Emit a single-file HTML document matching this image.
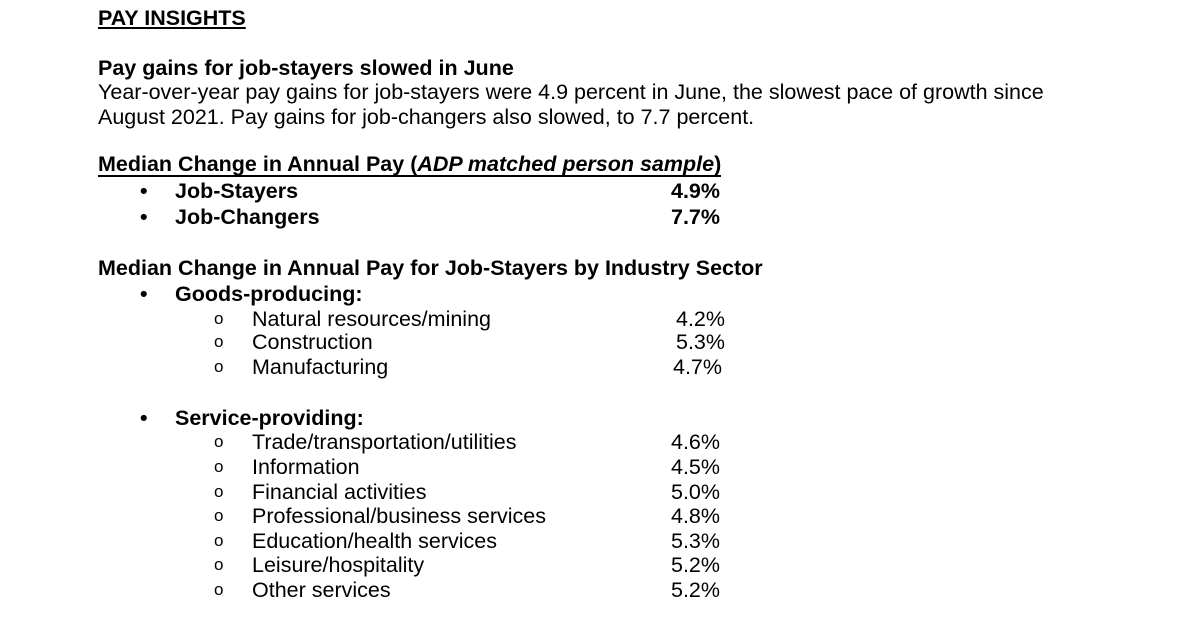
<!DOCTYPE html>
<html><head><meta charset="utf-8"><style>
body{margin:0;width:1200px;height:621px;background:#fff;overflow:hidden;font-family:"Liberation Sans",Arial,sans-serif;color:#000;position:relative}
.l{position:absolute;font-size:21.5px;line-height:24px;white-space:nowrap}
.b{font-weight:bold}
.u{text-decoration:underline;text-underline-offset:2px}
.r{text-align:right}
</style></head><body>
<div class="l b u" style="left:98px;top:6px;font-size:21.5px">PAY INSIGHTS</div>
<div class="l b" style="left:98px;top:56px">Pay gains for job-stayers slowed in June</div>
<div class="l" style="left:98px;top:80px">Year-over-year pay gains for job-stayers were 4.9 percent in June, the slowest pace of growth since</div>
<div class="l" style="left:98px;top:105px">August 2021. Pay gains for job-changers also slowed, to 7.7 percent.</div>

<div class="l b" style="left:98px;top:153px;border-bottom:2px solid #000;line-height:22px">Median Change in Annual Pay (<i>ADP matched person sample</i>)</div>
<div class="l b" style="left:140px;top:179px">•</div>
<div class="l b" style="left:175px;top:179px">Job-Stayers</div>
<div class="l b r" style="left:620px;top:179px;width:100px">4.9%</div>
<div class="l b" style="left:140px;top:205px">•</div>
<div class="l b" style="left:175px;top:205px">Job-Changers</div>
<div class="l b r" style="left:620px;top:205px;width:100px">7.7%</div>

<div class="l b" style="left:98px;top:256px">Median Change in Annual Pay for Job-Stayers by Industry Sector</div>
<div class="l b" style="left:140px;top:282px">•</div>
<div class="l b" style="left:175px;top:282px">Goods-producing:</div>

<div id="items"></div>
<div class="l b" style="left:140px;top:406px">•</div>
<div class="l b" style="left:175px;top:406px">Service-providing:</div>
<script>
const labels=["Natural resources/mining","Construction","Manufacturing","Trade/transportation/utilities","Information","Financial activities","Professional/business services","Education/health services","Leisure/hospitality","Other services"];
const values=["4.2%","5.3%","4.7%","4.6%","4.5%","5.0%","4.8%","5.3%","5.2%","5.2%"];
const tops=[307,330,355,430,455,480,504,529,553,578];
const rights=[725,725,722,720,720,720,720,720,720,720];
const c=document.getElementById('items');
labels.forEach((t,i)=>{
 const o=document.createElement('div');o.className='l';o.style.cssText='left:214px;top:'+tops[i]+'px;font-size:17px;';o.textContent='o';
 
 
 const a=document.createElement('div');a.className='l';a.style.cssText='left:252px;top:'+tops[i]+'px';a.textContent=t;
 
 
 const v=document.createElement('div');v.className='l r';v.style.cssText='left:'+(rights[i]-100)+'px;width:100px;top:'+tops[i]+'px';v.textContent=values[i];
 
 
 c.append(o,a,v);
});
</script>
</body></html>
